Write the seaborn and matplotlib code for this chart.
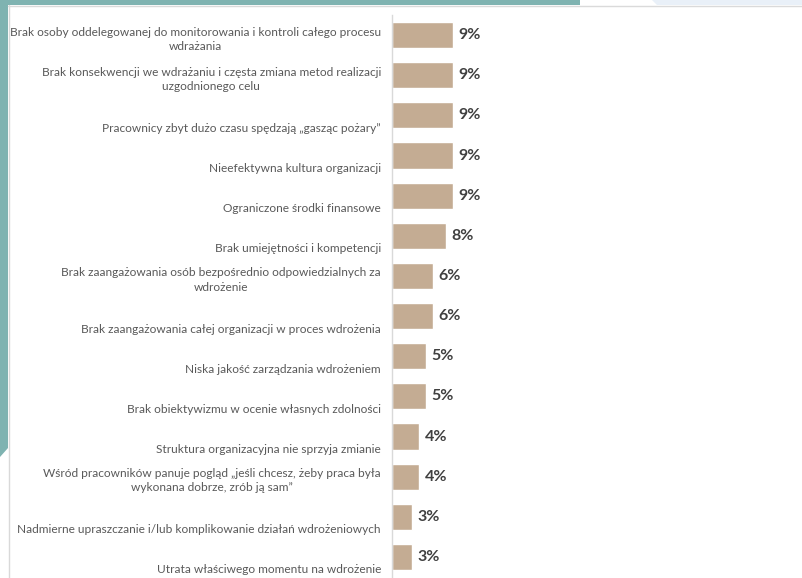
import matplotlib
matplotlib.use("Agg")
import matplotlib.pyplot as plt
from matplotlib.patches import Polygon, Rectangle
from matplotlib.lines import Line2D
from matplotlib.transforms import ScaledTranslation
import seaborn as sns
import pandas as pd

categories = [
    "Brak osoby oddelegowanej do monitorowania i kontroli całego procesu\nwdrażania",
    "Brak konsekwencji we wdrażaniu i częsta zmiana metod realizacji\nuzgodnionego celu",
    "Pracownicy zbyt dużo czasu spędzają „gasząc pożary”",
    "Nieefektywna kultura organizacji",
    "Ograniczone środki finansowe",
    "Brak umiejętności i kompetencji",
    "Brak zaangażowania osób bezpośrednio odpowiedzialnych za\nwdrożenie",
    "Brak zaangażowania całej organizacji w proces wdrożenia",
    "Niska jakość zarządzania wdrożeniem",
    "Brak obiektywizmu w ocenie własnych zdolności",
    "Struktura organizacyjna nie sprzyja zmianie",
    "Wśród pracowników panuje pogląd „jeśli chcesz, żeby praca była\nwykonana dobrze, zrób ją sam”",
    "Nadmierne upraszczanie i/lub komplikowanie działań wdrożeniowych",
    "Utrata właściwego momentu na wdrożenie",
]
values = [9, 9, 9, 9, 9, 8, 6, 6, 5, 5, 4, 4, 3, 3]

BAR = "#C4AC93"
TEAL = "#7FB3B1"
TEXT = "#595959"
VALUE_TEXT = "#404040"

sns.set_theme(style="white")
plt.rcParams["font.family"] = ["Lato", "DejaVu Sans"]

DPI = 100
W, H = 802, 578
fig = plt.figure(figsize=(W / DPI, H / DPI), dpi=DPI)
fig.patch.set_facecolor("white")


def fx(px):
    return px / W


def fy(py):
    return 1 - py / H


def shift_down(px):
    return ScaledTranslation(0, -px / DPI, fig.dpi_scale_trans)


# page decoration: teal frame strips and light panel edge
fig.add_artist(Rectangle((fx(0), fy(5)), fx(580), 5 / H, transform=fig.transFigure,
                         facecolor=TEAL, edgecolor="none", zorder=0))
fig.add_artist(Polygon([(fx(652), fy(0)), (fx(802), fy(0)), (fx(802), fy(5)), (fx(657), fy(5))],
                       closed=True, transform=fig.transFigure,
                       facecolor="#E9F0F8", edgecolor="none", zorder=0))
fig.add_artist(Polygon([(fx(0), fy(0)), (fx(8), fy(0)), (fx(8), fy(448)), (fx(0), fy(457))],
                       closed=True, transform=fig.transFigure,
                       facecolor=TEAL, edgecolor="none", zorder=0))
fig.add_artist(Line2D([fx(8.5), fx(8.5)], [fy(5), fy(578)], transform=fig.transFigure,
                      color="#D9D9D9", lw=1, zorder=1))
fig.add_artist(Line2D([fx(8), fx(802)], [fy(5.5), fy(5.5)], transform=fig.transFigure,
                      color="#DADADA", lw=1, zorder=1))

ax = fig.add_axes([fx(392), fy(577), fx(400), 562 / H])
ax.set_facecolor("none")

df = pd.DataFrame({"category": categories, "value": values})
sns.barplot(data=df, x="value", y="category", orient="h", color=BAR,
            width=0.65, saturation=1, ax=ax)

ax.set_xlim(0, 59)
ax.set_ylim(len(categories) - 0.5, -0.5)
ax.set_xlabel("")
ax.set_ylabel("")
ax.set_xticks([])

for side in ["top", "right", "bottom"]:
    ax.spines[side].set_visible(False)
ax.spines["left"].set_color("#D9D9D9")
ax.spines["left"].set_linewidth(1)

ax.tick_params(axis="y", which="major", length=0, pad=8, labelsize=8.6, labelcolor=TEXT)
ax.set_yticks([i - 0.5 for i in range(len(categories) + 1)], minor=True)
ax.tick_params(axis="y", which="minor", length=4, width=1, color="#D9D9D9", direction="out")

# single-line labels sit lower in their band than wrapped ones
for t in ax.get_yticklabels():
    t.set_multialignment("center")
    t.set_linespacing(1.35)
    drop = 1.5 if "\n" in t.get_text() else 12
    t.set_transform(t.get_transform() + shift_down(drop))

for t in ax.bar_label(ax.containers[0], labels=[f"{v}%" for v in values], padding=4,
                      fontsize=11.5, fontweight="bold", color=VALUE_TEXT):
    t.set_transform(t.get_transform() + shift_down(2))

fig.savefig("out.png", dpi=DPI, facecolor="white")
